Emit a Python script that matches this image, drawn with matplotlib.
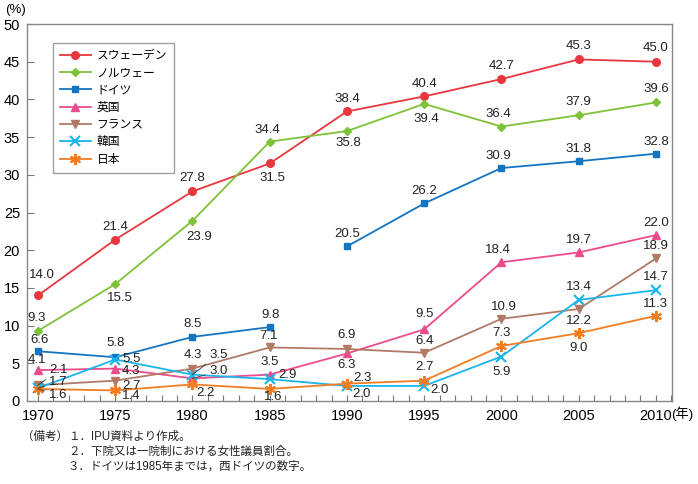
import numpy as np
import matplotlib.pyplot as plt
from matplotlib.ticker import MultipleLocator

plt.rcParams['font.family'] = ['Liberation Sans', 'Noto Sans CJK JP']

# データ（%）
years = [1970, 1975, 1980, 1985, 1990, 1995, 2000, 2005, 2010]
sweden = [14.0, 21.4, 27.8, 31.5, 38.4, 40.4, 42.7, 45.3, 45.0]
norway = [9.3, 15.5, 23.9, 34.4, 35.8, 39.4, 36.4, 37.9, 39.6]
west_germany_years = [1970, 1975, 1980, 1985]
west_germany = [6.6, 5.8, 8.5, 9.8]
germany_years = [1990, 1995, 2000, 2005, 2010]
germany = [20.5, 26.2, 30.9, 31.8, 32.8]
uk = [4.1, 4.3, 3.0, 3.5, 6.3, 9.5, 18.4, 19.7, 22.0]
france = [2.1, 2.7, 4.3, 7.1, 6.9, 6.4, 10.9, 12.2, 18.9]
korea = [1.7, 5.5, 3.5, 2.9, 2.0, 2.0, 5.9, 13.4, 14.7]
japan = [1.6, 1.4, 2.2, 1.6, 2.3, 2.7, 7.3, 9.0, 11.3]

names = ['スウェーデン', 'ノルウェー', 'ドイツ', '英国', 'フランス', '韓国', '日本']
notes = ['１．IPU資料より作成。',
         '２．下院又は一院制における女性議員割合。',
         '３．ドイツは1985年までは，西ドイツの数字。']

# ラベル位置（ピクセルずらし）
off_sweden = [(4, 20), (0, 13), (0, 13), (3, -15), (0, 12), (0, 12), (0, 13), (0, 13), (0, 14)]
off_norway = [(-1, 13), (5, -14), (7, -16), (-2, 12), (1, -12), (2, -15), (-3, 13), (0, 13), (0, 13)]
off_wger = [(2, 11), (0, 14), (0, 13), (1, 12)]
off_ger = [(0, 12), (0, 12), (-3, 12), (0, 12), (0, 12)]
off_uk = [(-1, 10), (16, -2), (26, 7), (0, 13), (0, -12), (0, 15), (-4, 12), (0, 12), (0, 12)]
off_france = [(21, 15), (16, -5), (0, 14), (-1, 11), (0, 14), (0, 12), (2, 12), (0, -12), (0, 12)]
off_korea = [(20, 6), (16, 1), (26, 20), (18, 4), (15, -8), (15, -4), (0, -15), (0, 13), (0, 13)]
off_japan = [(20, -6), (16, -6), (13, -9), (3, -8), (16, 6), (0, 14), (0, 13), (0, -15), (0, 12)]
lead_uk = [2]
lead_france = [0]
lead_korea = [0, 2]
lead_japan = [0]

c_sw = '#e8373e'
c_no = '#7ec23a'
c_ge = '#1474c0'
c_uk = '#ec4c8c'
c_fr = '#b07a66'
c_ko = '#19b5eb'
c_jp = '#f07d22'

fig = plt.figure(figsize=(6.98, 4.84), dpi=100)
ax = fig.add_axes([27/698, 1-401/484, 645/698, 377/484])

lw = 1.3
ax.plot(years, sweden, color=c_sw, lw=lw, marker='o', ms=5.5, label=names[0])
ax.plot(years, norway, color=c_no, lw=lw, marker='D', ms=4.5, label=names[1])
ax.plot(west_germany_years, west_germany, color=c_ge, lw=lw, marker='s', ms=4.5, label=names[2])
ax.plot(germany_years, germany, color=c_ge, lw=lw, marker='s', ms=4.5)
ax.plot(years, uk, color=c_uk, lw=lw, marker='^', ms=5.5, label=names[3])
ax.plot(years, france, color=c_fr, lw=lw, marker='v', ms=5.5, label=names[4])
ax.plot(years, korea, color=c_ko, lw=lw, marker='x', ms=6.5, mew=1.5, label=names[5])
ax.plot(years, japan, color=c_jp, lw=lw, marker=(6, 2, 0), ms=8, mew=1.5, label=names[6])


def put_labels(xs, vals, offs, leads=()):
    for i, (x, v) in enumerate(zip(xs, vals)):
        kw = {}
        if i in leads:
            kw['arrowprops'] = dict(arrowstyle='-', lw=0.6, color='#333333',
                                    shrinkA=1, shrinkB=0)
        ax.annotate(f'{v:.1f}', xy=(x, v), xytext=offs[i], textcoords='offset pixels',
                    ha='center', va='center', fontsize=9.5, color='#222222', **kw)


put_labels(years, sweden, off_sweden)
put_labels(years, norway, off_norway)
put_labels(west_germany_years, west_germany, off_wger)
put_labels(germany_years, germany, off_ger)
put_labels(years, uk, off_uk, lead_uk)
put_labels(years, france, off_france, lead_france)
put_labels(years, korea, off_korea, lead_korea)
put_labels(years, japan, off_japan, lead_japan)

ax.set_xlim(1969.29, 2011.04)
ax.set_ylim(0, 50)
ax.set_xticks(range(1970, 2011, 5))
ax.xaxis.set_minor_locator(MultipleLocator(1))
ax.yaxis.set_major_locator(MultipleLocator(5))
ax.tick_params(axis='x', which='both', direction='in', length=4, width=0.8,
               color='#777777', labelsize=10.5, pad=6)
ax.tick_params(axis='y', direction='in', length=5, width=0.8, color='#777777',
               labelsize=10.5, pad=5)
for s in ax.spines.values():
    s.set_color('#888888')
    s.set_linewidth(1)

leg = ax.legend(loc='upper left', bbox_to_anchor=(0.040, 0.950), borderaxespad=0,
                fancybox=False, edgecolor='#888888', fontsize=8.5, handlelength=2.6,
                labelspacing=0.45, borderpad=0.6, handletextpad=0.5)
leg.get_frame().set_linewidth(1)

fig.text(5/698, 1-10/484, '(%)', fontsize=9.5, ha='left', va='center')
fig.text(671/698, 1-414/484, '(年)', fontsize=9.5, ha='left', va='center')

fig.text(22/698, 1-437/484, '（備考）', fontsize=8.3, ha='left', va='center', color='#222222')
for k, t in enumerate(notes):
    fig.text(68/698, 1-(437+15*k)/484, t, fontsize=8.3, ha='left', va='center', color='#222222')

fig.savefig('out.png', dpi=100)
